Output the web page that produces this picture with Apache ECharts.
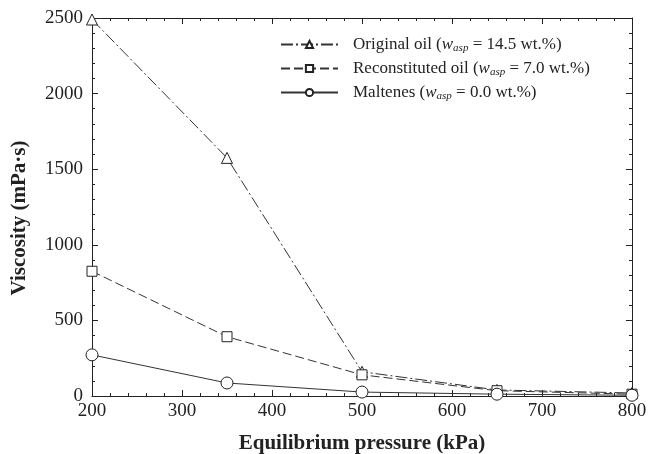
<!DOCTYPE html>
<html>
<head>
<meta charset="utf-8">
<script src="https://cdn.jsdelivr.net/npm/echarts@6/dist/echarts.min.js"></script>
<style>
html, body { margin: 0; padding: 0; background: #fff; }
#chart { width: 648px; height: 454px; }
</style>
</head>
<body>
<div id="chart"></div>
<script>
// datos
var pressures = [200, 350, 500, 650, 800];
var originalOil = [2490, 1575, 160, 40, 20];
var reconstitutedOil = [825, 392, 140, 35, 12];
var maltenes = [272, 86, 26, 12, 5];
var seriesNames = ['Original oil', 'Reconstituted oil', 'Maltenes'];
var waspValues = ['14.5', '7.0', '0.0'];

var dom = document.getElementById('chart');
var myChart = echarts.init(dom, null, { renderer: 'canvas' });

var font = 'Liberation Serif';
var ink = '#222';

function pairs(vals) {
    return pressures.map(function (p, i) { return [p, vals[i]]; });
}

function plain(v) { return String(v); }

function frameAxis(extra) {
    var base = {
        axisLine: { show: true, onZero: false, lineStyle: { color: ink, width: 1 } },
        axisTick: { show: true, inside: true, length: 6, lineStyle: { color: ink } },
        minorTick: { show: true, splitNumber: 5, length: 3, lineStyle: { color: ink } },
        splitLine: { show: false },
        minorSplitLine: { show: false }
    };
    return Object.assign(base, extra);
}

var option = {
    animation: false,
    backgroundColor: '#fff',
    textStyle: { fontFamily: font },
    grid: { left: 92, right: 16, top: 18, bottom: 58, containLabel: false, outerBoundsMode: 'none' },
    legend: {
        orient: 'vertical',
        left: 275,
        top: 31,
        itemWidth: 57,
        itemHeight: 9,
        itemGap: 6,
        data: seriesNames,
        formatter: function (name) {
            var i = seriesNames.indexOf(name);
            return '{p|}{n|' + name + ' (}{i|w}{s|asp}{n| = ' + waspValues[i] + ' wt.%)}';
        },
        textStyle: {
            fontFamily: font,
            color: ink,
            rich: {
                p: { width: 10 },
                n: { fontFamily: font, fontSize: 17, color: ink },
                i: { fontFamily: font, fontSize: 17, fontStyle: 'italic', color: ink },
                s: { fontFamily: font, fontSize: 11, fontStyle: 'italic', color: ink, padding: [8, 0, 0, 0] }
            }
        }
    },
    xAxis: [
        frameAxis({
            type: 'value', min: 200, max: 800, interval: 100,
            name: 'Equilibrium pressure (kPa)',
            nameLocation: 'middle', nameGap: 37,
            nameTextStyle: { fontFamily: font, fontSize: 21, fontWeight: 'bold', color: ink },
            axisLabel: { fontFamily: font, fontSize: 19, color: ink, margin: 6, formatter: plain }
        }),
        frameAxis({
            type: 'value', min: 200, max: 800, interval: 100, position: 'top',
            axisLabel: { show: false }
        })
    ],
    yAxis: [
        frameAxis({
            type: 'value', min: 0, max: 2500, interval: 500,
            name: 'Viscosity (mPa\u00b7s)',
            nameLocation: 'middle', nameGap: 62,
            nameTextStyle: { fontFamily: font, fontSize: 21, fontWeight: 'bold', color: ink, padding: [0, 22, 0, 0] },
            axisLabel: { fontFamily: font, fontSize: 19, color: ink, margin: 9, formatter: plain }
        }),
        frameAxis({
            type: 'value', min: 0, max: 2500, interval: 500, position: 'right',
            axisLabel: { show: false }
        })
    ],
    series: [
        {
            name: seriesNames[0], type: 'line', data: pairs(originalOil),
            symbol: 'triangle', symbolSize: 11,
            lineStyle: { color: '#333', width: 1, type: [12, 3, 2, 3] },
            itemStyle: { color: '#fff', borderColor: ink, borderWidth: 1 }
        },
        {
            name: seriesNames[1], type: 'line', data: pairs(reconstitutedOil),
            symbol: 'rect', symbolSize: 10,
            lineStyle: { color: '#333', width: 1, type: [9, 4] },
            itemStyle: { color: '#fff', borderColor: ink, borderWidth: 1 }
        },
        {
            name: seriesNames[2], type: 'line', data: pairs(maltenes),
            symbol: 'circle', symbolSize: 12,
            lineStyle: { color: '#333', width: 1, type: 'solid' },
            itemStyle: { color: '#fff', borderColor: ink, borderWidth: 1 }
        }
    ]
};

myChart.setOption(option);
window.addEventListener('resize', myChart.resize);
</script>
</body>
</html>
